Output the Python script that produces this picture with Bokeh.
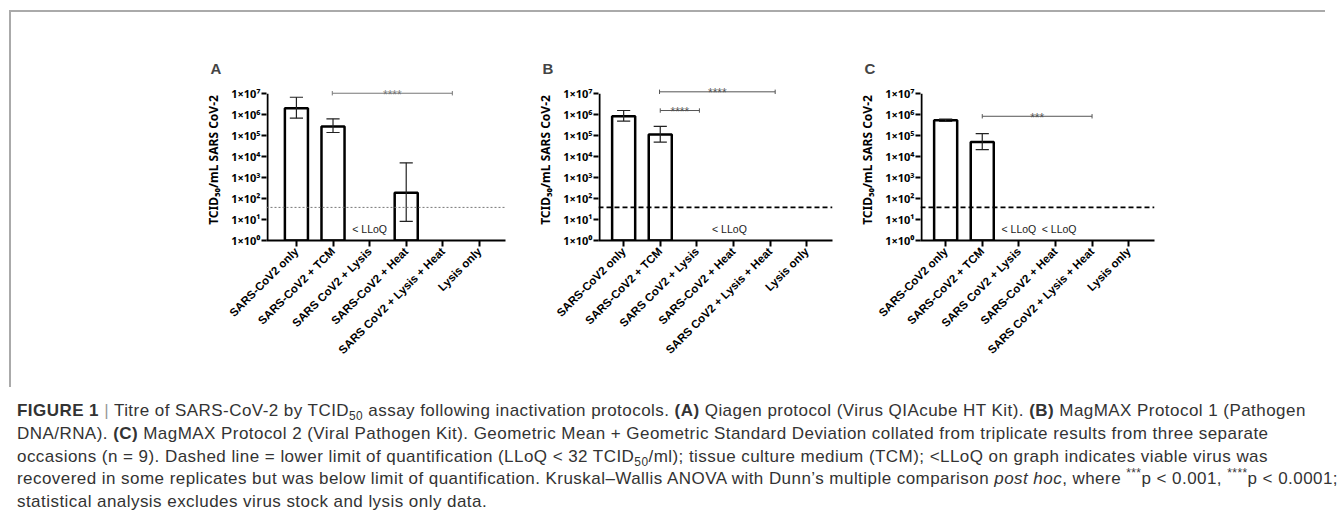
import math
from bokeh.plotting import figure
from bokeh.models import Range1d, FixedTicker, Div, Spacer, Span, Title
from bokeh.layouts import row, column
from bokeh.core.properties import value
from bokeh.embed import file_html
from bokeh.resources import INLINE

# ---------------- data ----------------
categories = ["SARS-CoV2 only", "SARS-CoV2 + TCM", "SARS CoV2 + Lysis",
              "SARS-CoV2 + Heat", "SARS CoV2 + Lysis + Heat", "Lysis only"]
y_ticks = [1, 10, 100, 1000, 10000, 100000, 1000000, 10000000]
y_tick_labels = ["1×10⁰", "1×10¹", "1×10²", "1×10³", "1×10⁴", "1×10⁵", "1×10⁶", "1×10⁷"]
lloq = 38

# panel A (Qiagen)
a_mean = [2.05e6, 2.8e5, None, 190, None, None]
a_upper = [6.9e6, 6.4e5, None, 5.1e3, None, None]
a_lower = [6.9e5, 1.43e5, None, 8.1, None, None]
a_brackets = [(0.98, 4.26, 1.07e7, "****")]
a_lloq_text = [(2.0, "< LLoQ")]

# panel B (MagMAX 1)
b_mean = [8.6e5, 1.15e5, None, None, None, None]
b_upper = [1.6e6, 2.8e5, None, None, None, None]
b_lower = [5.0e5, 5.0e4, None, None, None, None]
b_brackets = [(0.98, 4.14, 1.25e7, "****"), (1.0, 2.07, 1.6e6, "****")]
b_lloq_text = [(2.89, "< LLoQ")]

# panel C (MagMAX 2)
c_mean = [5.5e5, 5.1e4, None, None, None, None]
c_upper = [6.2e5, 1.27e5, None, None, None, None]
c_lower = [4.8e5, 2.2e4, None, None, None, None]
c_brackets = [(1.0, 4.0, 8.5e5, "***")]
c_lloq_text = [(2.0, "< LLoQ"), (3.1, "< LLoQ")]

FONT = "Liberation Sans"
TICKFONT = "Noto Sans"
PX_PER_CAT = 36.6
PX_PER_DEC = 20.95
FRAME_H = 161


def make_panel(letter, means, uppers, lowers, brackets, lloq_texts,
               axis_x, left_border, frame_w, dash, dash_color, dash_width,
               bracket_color, title_offset):
    pad = 1.0 / PX_PER_CAT
    xs = axis_x - pad
    xe = xs + frame_w / PX_PER_CAT
    ytop = 10 ** (FRAME_H / PX_PER_DEC)
    p = figure(frame_width=frame_w, frame_height=FRAME_H, y_axis_type="log",
               x_range=Range1d(xs, xe), y_range=Range1d(1, ytop),
               output_backend="svg", toolbar_location=None,
               min_border_left=left_border, min_border_right=20,
               min_border_top=67, min_border_bottom=147)
    p.outline_line_color = None
    p.grid.visible = False
    p.background_fill_color = "white"
    p.border_fill_color = "white"

    t = Title(text=letter, align="left", offset=title_offset,
              text_font=FONT, text_font_size="15px", text_font_style="bold",
              standoff=6)
    p.add_layout(t, "above")

    # y axis
    ya = p.yaxis[0]
    ya.ticker = FixedTicker(ticks=y_ticks)
    ya.major_label_overrides = {t_: l for t_, l in zip(y_ticks, y_tick_labels)}
    ya.axis_line_color = None
    ya.major_tick_line_color = "black"
    ya.major_tick_line_width = 2
    ya.major_tick_out = 5
    ya.major_tick_in = 0
    ya.minor_tick_line_color = None
    ya.major_label_standoff = 1
    ya.major_label_text_font = TICKFONT
    ya.major_label_text_font_style = "bold"
    ya.major_label_text_font_size = "11px"
    ya.major_label_text_color = "black"
    ya.axis_label = "TCID₅₀/mL SARS CoV-2"
    ya.axis_label_text_font = TICKFONT
    ya.axis_label_text_font_style = "bold"
    ya.axis_label_text_font_size = "12px"
    ya.axis_label_text_color = "black"
    ya.axis_label_standoff = 6

    # x axis
    xa = p.xaxis[0]
    xa.ticker = FixedTicker(ticks=list(range(len(categories))))
    xa.major_label_overrides = {i: c for i, c in enumerate(categories)}
    xa.major_label_orientation = math.pi / 4
    xa.axis_line_width = 2
    xa.axis_line_color = "black"
    xa.major_tick_line_width = 2
    xa.major_tick_out = 6
    xa.major_tick_in = 0
    xa.minor_tick_line_color = None
    xa.major_label_standoff = 3
    xa.major_label_text_font = FONT
    xa.major_label_text_font_style = "bold"
    xa.major_label_text_font_size = "11.5px"
    xa.major_label_text_color = "black"

    # y axis line (stops at 1e7)
    p.segment(x0=[axis_x], y0=[1], x1=[axis_x], y1=[1e7],
              line_color="black", line_width=2)

    # LLoQ
    p.add_layout(Span(location=lloq, dimension="width", line_color=dash_color,
                      line_dash=dash, line_width=dash_width))

    # bars
    bx = [i for i, m in enumerate(means) if m is not None]
    bt = [m for m in means if m is not None]
    p.vbar(x=bx, top=bt, bottom=1, width=0.63, fill_color="white",
           line_color="black", line_width=2.5)

    # error bars
    ex = [i for i, u in enumerate(uppers) if u is not None]
    eu = [u for u in uppers if u is not None]
    el = [l for l in lowers if l is not None]
    p.segment(x0=ex, y0=el, x1=ex, y1=eu, line_color="#222", line_width=1.2)
    cap = 0.18
    p.segment(x0=[x - cap for x in ex], y0=eu, x1=[x + cap for x in ex], y1=eu,
              line_color="#222", line_width=1.2)
    p.segment(x0=[x - cap for x in ex], y0=el, x1=[x + cap for x in ex], y1=el,
              line_color="#222", line_width=1.2)

    # significance brackets
    f = 10 ** (2.2 / PX_PER_DEC)
    g = 10 ** (1.5 / PX_PER_DEC)
    for (x0, x1, yb, lab) in brackets:
        p.segment(x0=[x0], y0=[yb], x1=[x1], y1=[yb], line_color=bracket_color, line_width=1)
        p.segment(x0=[x0, x1], y0=[yb / f, yb / f], x1=[x0, x1], y1=[yb * f, yb * f],
                  line_color=bracket_color, line_width=1)
        p.text(x=[(x0 + x1) / 2], y=[yb / g], text=[lab], text_align="center",
               text_baseline="alphabetic", text_font=value(FONT),
               text_font_size="12px", text_color=bracket_color)

    # < LLoQ labels
    p.text(x=[t_[0] for t_ in lloq_texts], y=[3.7] * len(lloq_texts),
           text=[t_[1] for t_ in lloq_texts], text_align="center",
           text_baseline="middle", text_font=value(FONT),
           text_font_size="10.5px", text_color="#222")
    return p


pA = make_panel("A", a_mean, a_upper, a_lower, a_brackets, a_lloq_text,
                axis_x=-0.79, left_border=255, frame_w=239,
                dash="2 2", dash_color="#777", dash_width=1,
                bracket_color="#777", title_offset=-56)
pB = make_panel("B", b_mean, b_upper, b_lower, b_brackets, b_lloq_text,
                axis_x=-0.66, left_border=73, frame_w=234,
                dash="5 3", dash_color="black", dash_width=1.6,
                bracket_color="#555", title_offset=-56)
pC = make_panel("C", c_mean, c_upper, c_lower, c_brackets, c_lloq_text,
                axis_x=-0.66, left_border=68, frame_w=234,
                dash="5 3", dash_color="black", dash_width=1.6,
                bracket_color="#555", title_offset=-56)

panels = row(pA, pB, pC, Spacer(width=1326 - 1175, height=10),
             margin=(10, 0, 0, 9),
             styles={"border-top": "2px solid #aaa", "border-left": "2px solid #aaa"})

SUP = "<sup style='line-height:0;font-size:70%'>"
SUB = "<sub style='line-height:0;font-size:70%'>"
caption_html = (
    "<b>FIGURE 1</b> <span style='color:#999'>|</span> Titre of SARS-CoV-2 by TCID" + SUB + "50</sub> assay following "
    "inactivation protocols. <b>(A)</b> Qiagen protocol (Virus QIAcube HT Kit). <b>(B)</b> MagMAX Protocol 1 (Pathogen<br>"
    "DNA/RNA). <b>(C)</b> MagMAX Protocol 2 (Viral Pathogen Kit). Geometric Mean + Geometric Standard Deviation collated "
    "from triplicate results from three separate<br>"
    "occasions (n = 9). Dashed line = lower limit of quantification (LLoQ &lt; 32 TCID" + SUB + "50</sub>/ml); tissue culture "
    "medium (TCM); &lt;LLoQ on graph indicates viable virus was<br>"
    "recovered in some replicates but was below limit of quantification. Kruskal–Wallis ANOVA with Dunn’s multiple "
    "comparison <i>post hoc</i>, where " + SUP + "***</sup>p &lt; 0.001, " + SUP + "****</sup>p &lt; 0.0001;<br>"
    "statistical analysis excludes virus stock and lysis only data."
)
caption = Div(text=caption_html, width=1320,
              styles={"font-family": "Liberation Sans, Arial, sans-serif", "font-size": "17px",
                      "letter-spacing": "0.45px",
                      "line-height": "22.8px", "color": "#333", "padding-left": "12px",
                      "padding-top": "8px", "white-space": "nowrap"})

layout = column(panels, caption)

with open("out.html", "w") as fh:
    fh.write(file_html(layout, INLINE))
